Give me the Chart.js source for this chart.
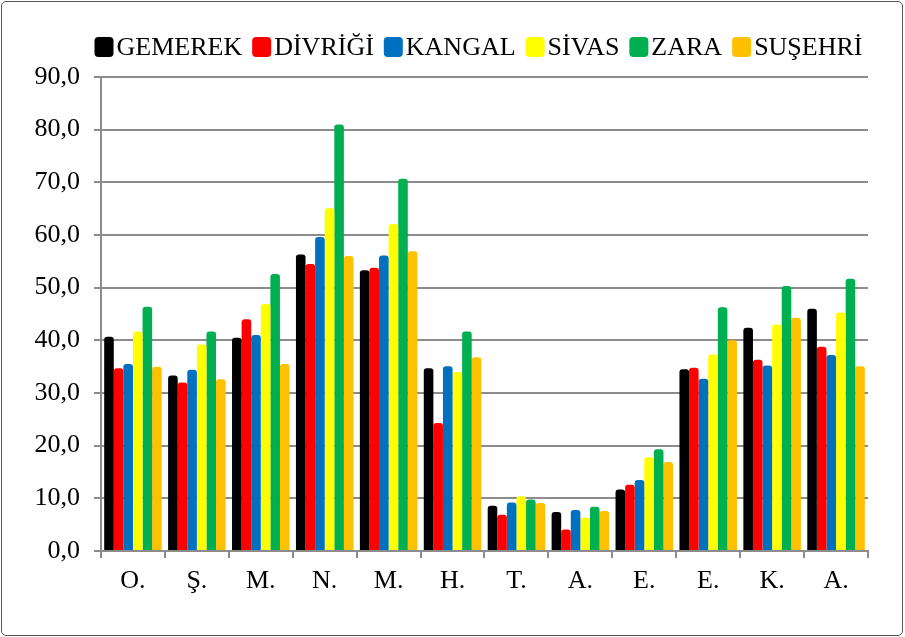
<!DOCTYPE html>
<html>
<head>
<meta charset="utf-8">
<script src="https://cdn.jsdelivr.net/npm/chart.js@4"></script>
<style>
  body { margin: 0; background: #fff; }
  #frame {
    position: absolute; left: 1px; top: 1px; width: 900px; height: 633px;
    border: 1.5px solid #555; border-radius: 5px;
  }
  #chart { position: absolute; left: 0; top: 0; }
</style>
</head>
<body>
<div id="frame"></div>
<canvas id="chart" width="905" height="637"></canvas>
<script>
// ====== DATA ======
const months = ['O.', 'Ş.', 'M.', 'N.', 'M.', 'H.', 'T.', 'A.', 'E.', 'E.', 'K.', 'A.'];

const gemerek = [40.7, 33.3, 40.5, 56.3, 53.3, 34.7, 8.6, 7.4, 11.7, 34.5, 42.4, 46.0];
const divrigi = [34.7, 32.0, 44.0, 54.5, 53.8, 24.3, 6.9, 4.1, 12.6, 34.8, 36.3, 38.8];
const kangal  = [35.5, 34.4, 41.0, 59.6, 56.1, 35.1, 9.2, 7.8, 13.5, 32.7, 35.2, 37.2];
const sivas   = [41.7, 39.2, 46.9, 65.1, 62.1, 34.0, 10.4, 6.3, 17.8, 37.3, 43.0, 45.3];
const zara    = [46.4, 41.7, 52.6, 81.0, 70.7, 41.7, 9.8, 8.4, 19.3, 46.3, 50.3, 51.7];
const susehri = [35.0, 32.6, 35.5, 56.0, 56.9, 36.8, 9.1, 7.6, 16.9, 40.0, 44.3, 35.1];

const yTicks = [0, 10, 20, 30, 40, 50, 60, 70, 80, 90];

const seriesNames = ['GEMEREK', 'DİVRİĞİ', 'KANGAL', 'SİVAS', 'ZARA', 'SUŞEHRİ'];
const seriesData = [gemerek, divrigi, kangal, sivas, zara, susehri];
const seriesColors = ['#000000', '#FF0000', '#0070C0', '#FFFF00', '#00B050', '#FFC000'];

// ====== CHART ======
const FONT = '"Liberation Serif", "Times New Roman", serif';
const FONT_SIZE = 26;
const GRID = '#8c8c8c';

// legend drawn by hand: the built-in one leaves too wide a gap between box and text
const tightLegend = {
    id: 'tightLegend',
    afterDraw(chart) {
        const ctx = chart.ctx;
        const boxW = 19, boxH = 20, gap = 3, itemGap = 10, y = 47;
        ctx.save();
        ctx.font = `${FONT_SIZE}px ${FONT}`;
        ctx.textBaseline = 'middle';
        const items = chart.data.datasets.map(d => ({
            text: d.label,
            color: d.backgroundColor,
            width: boxW + gap + ctx.measureText(d.label).width
        }));
        const total = items.reduce((s, it) => s + it.width, 0) + itemGap * (items.length - 1);
        let x = (96 + 861) / 2 - total / 2;
        items.forEach(it => {
            ctx.fillStyle = it.color;
            ctx.beginPath();
            ctx.roundRect(x, y - boxH / 2, boxW, boxH, 4);
            ctx.fill();
            ctx.fillStyle = '#000';
            ctx.fillText(it.text, x + boxW + gap, y + 1);
            x += it.width + itemGap;
        });
        ctx.restore();
    }
};

const datasets = seriesNames.map((name, i) => ({
    label: name,
    data: seriesData[i],
    backgroundColor: seriesColors[i],
    borderWidth: 0,
    borderRadius: { topLeft: 3, topRight: 3, bottomLeft: 0, bottomRight: 0 },
    borderSkipped: 'bottom',
    barPercentage: 1.0,
    categoryPercentage: 0.9
}));

const chart = new Chart(document.getElementById('chart'), {
    type: 'bar',
    data: { labels: months, datasets },
    plugins: [tightLegend],
    options: {
        responsive: false,
        devicePixelRatio: 1,
        animation: false,
        layout: { padding: { left: 0, right: 37, top: 77, bottom: 0 } },
        plugins: {
            tooltip: { enabled: false },
            legend: { display: false }
        },
        scales: {
            x: {
                offset: true,
                grid: {
                    offset: true,
                    drawOnChartArea: false,
                    drawTicks: true,
                    tickLength: 7,
                    color: GRID,
                    lineWidth: 2
                },
                border: { color: GRID, width: 2 },
                ticks: {
                    font: { family: FONT, size: FONT_SIZE },
                    color: '#000',
                    padding: 8
                },
                afterFit: s => { s.height = 86; }
            },
            y: {
                min: 0,
                max: 90,
                afterBuildTicks: s => { s.ticks = yTicks.map(v => ({ value: v })); },
                grid: {
                    color: GRID,
                    lineWidth: 2,
                    drawTicks: true,
                    tickLength: 7
                },
                border: { color: GRID, width: 2 },
                ticks: {
                    font: { family: FONT, size: FONT_SIZE },
                    color: '#000',
                    padding: 14,
                    callback: v => v.toFixed(1).replace('.', ',')
                },
                afterFit: s => { s.width = 101; }
            }
        }
    }
});
</script>
</body>
</html>
